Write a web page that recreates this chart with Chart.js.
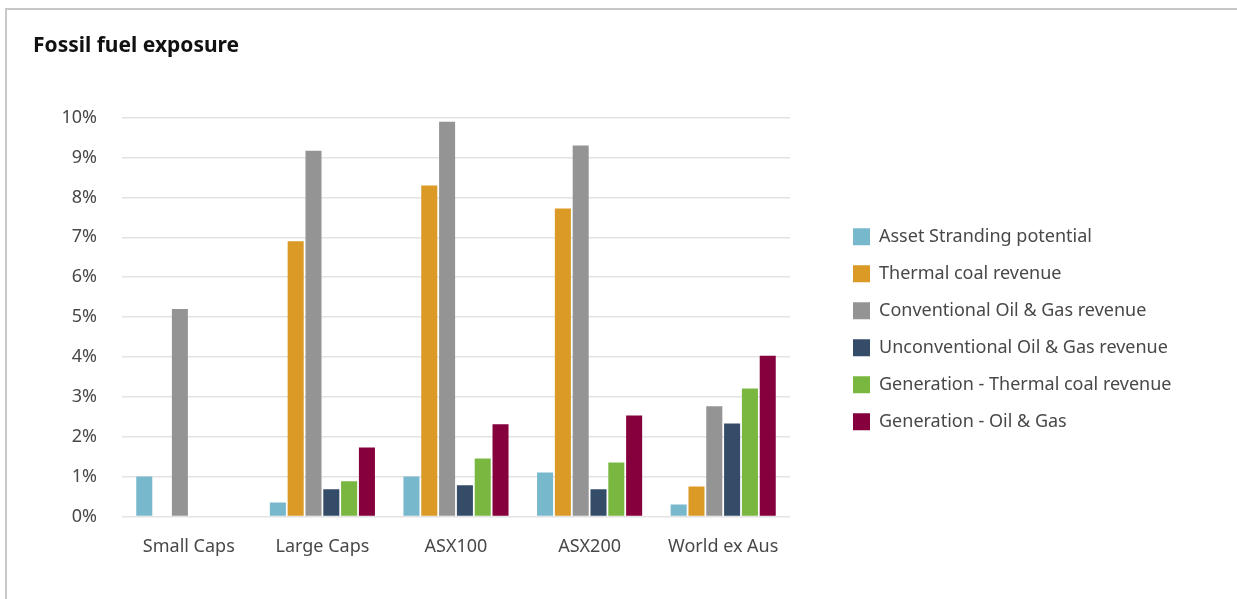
<!DOCTYPE html>
<html>
<head>
<meta charset="utf-8">
<script src="https://cdn.jsdelivr.net/npm/chart.js@4/dist/chart.umd.min.js"></script>
<style>
  html, body { margin: 0; padding: 0; background: #fff; }
  #frame {
    position: absolute; left: 5px; top: 8px;
    width: 1230px; height: 589px;
    border-top: 2px solid #c8c8c8;
    border-left: 2px solid #c8c8c8;
  }
  #chart { display: block; }
</style>
</head>
<body>
<div id="frame"><canvas id="chart" width="1230" height="589"></canvas></div>
<script>
const categories = ['Small Caps', 'Large Caps', 'ASX100', 'ASX200', 'World ex Aus']

const assetStranding = [1.0, 0.35, 1.0, 1.1, 0.3]
const thermalCoal = [0, 6.9, 8.3, 7.72, 0.75]
const conventionalOilGas = [5.2, 9.17, 9.9, 9.3, 2.76]
const unconventionalOilGas = [0, 0.68, 0.78, 0.68, 2.33]
const generationCoal = [0, 0.88, 1.45, 1.35, 3.21]
const generationOilGas = [0, 1.73, 2.31, 2.53, 4.03]

const yTicks = [0, 1, 2, 3, 4, 5, 6, 7, 8, 9, 10]

const FONT = '"Noto Sans", sans-serif'
const TEXT = '#484848'
const LABEL_SIZE = 18
const SPACER = 44
const LEGEND_PAD = 19

// legend width depends on the longest label, so measure it to keep the plot where it belongs
const longest = 'Generation - Thermal coal revenue'
const mctx = document.createElement('canvas').getContext('2d')
mctx.font = LABEL_SIZE + 'px ' + FONT
const textW = mctx.measureText(longest).width
const legendW = LEGEND_PAD + 17 + LABEL_SIZE / 2 + textW + 10
const padRight = Math.max(0, 1230 - 783 - SPACER - legendW)

const datasets = [
    { label: 'Asset Stranding potential', data: assetStranding, backgroundColor: '#78b8cc' },
    { label: 'Thermal coal revenue', data: thermalCoal, backgroundColor: '#da9a25' },
    { label: 'Conventional Oil & Gas revenue', data: conventionalOilGas, backgroundColor: '#949494' },
    { label: 'Unconventional Oil & Gas revenue', data: unconventionalOilGas, backgroundColor: '#344c68' },
    { label: 'Generation - Thermal coal revenue', data: generationCoal, backgroundColor: '#79b740' },
    { label: 'Generation - Oil & Gas', data: generationOilGas, backgroundColor: '#87003e' },
]

new Chart(document.getElementById('chart'), {
    type: 'bar',
    data: { labels: categories, datasets: datasets },
    options: {
        responsive: false,
        animation: false,
        layout: { padding: { left: 26, right: padRight, top: 0, bottom: 21 } },
        datasets: {
            bar: { categoryPercentage: 0.8, barPercentage: 0.9, borderWidth: 0 }
        },
        scales: {
            x: {
                grid: { display: false, drawTicks: false },
                border: { display: false },
                ticks: { color: TEXT, font: { family: FONT, size: LABEL_SIZE }, padding: 20 }
            },
            y: {
                min: 0,
                max: 10,
                afterBuildTicks: s => { s.ticks = yTicks.map(v => ({ value: v })) },
                afterFit: s => { s.width = 89 },
                grid: { color: '#e3e3e3', lineWidth: 1.5, drawTicks: false },
                border: { display: false },
                ticks: {
                    color: TEXT,
                    font: { family: FONT, size: LABEL_SIZE },
                    padding: 25,
                    callback: v => v + '%'
                }
            },
            spacer: {
                type: 'linear',
                position: 'right',
                grid: { display: false, drawTicks: false },
                border: { display: false },
                ticks: { display: false },
                afterFit: s => { s.width = SPACER }
            }
        },
        plugins: {
            title: {
                display: true,
                text: 'Fossil fuel exposure',
                align: 'start',
                color: '#111',
                font: { family: FONT, size: 21, weight: 'bold' },
                padding: { top: 23, bottom: 59.5 }
            },
            legend: {
                position: 'right',
                align: 'start',
                fullSize: false,
                maxWidth: 500,
                title: { display: true, text: ' ', font: { size: 10 }, padding: { top: 0, bottom: 79 } },
                labels: {
                    boxWidth: 17,
                    boxHeight: 17,
                    padding: LEGEND_PAD,
                    color: TEXT,
                    font: { family: FONT, size: LABEL_SIZE }
                }
            },
            tooltip: { enabled: false }
        }
    }
})
</script>
</body>
</html>
